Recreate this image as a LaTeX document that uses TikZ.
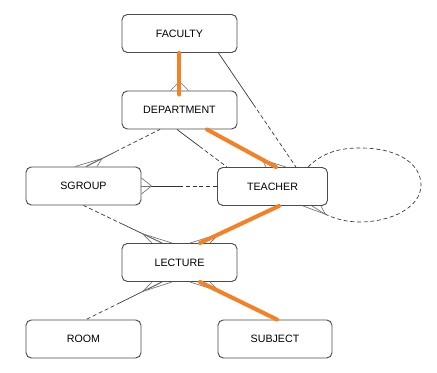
\documentclass[tikz,border=0pt]{standalone}
\usepackage{fontspec}
\setmainfont{Liberation Sans}
\usepackage{xcolor}
\usetikzlibrary{calc}

\definecolor{hlorange}{RGB}{245,128,37}
\tikzset{
  entity/.style={draw=black!70,line width=0.7pt,rounded corners=4pt,fill=white,
    minimum width=86.25pt,minimum height=28.5pt,inner sep=0pt,
    font=\fontsize{8}{10}\selectfont},
  rel/.style={draw=black!80,line width=0.5pt},
  opt/.style={rel,dash pattern=on 3pt off 2pt},
  foot/.style={draw=black!55,line width=0.5pt},
  hl/.style={draw=hlorange,line width=3pt,line cap=round},
}

\begin{document}
\begin{tikzpicture}[x=0.75pt,y=-0.75pt]
\useasboundingbox (0,0) rectangle (437,373);
% entities
\node[entity] (faculty) at (179.5,33.5) {FACULTY};
\node[entity] (dept) at (179.5,110) {DEPARTMENT};
\node[entity] (sgroup) at (83.5,186) {SGROUP};
\node[entity,minimum width=82.5pt] (teacher) at (272.5,186.5) {TEACHER};
\node[entity] (lecture) at (179.5,262.5) {LECTURE};
\node[entity] (room) at (83.5,339) {ROOM};
\node[entity,minimum width=85.5pt] (subject) at (275,339) {SUBJECT};

% end points of the relationships
\coordinate (ftA) at ($(faculty.south east)+(-19,0)$);
\coordinate (ftB) at ($(teacher.north)+(23.5,0)$);
\coordinate (dtA) at ($(dept.south)+(-2.5,0)$);
\coordinate (dtB) at ($(teacher.north west)+(10,0)$);
\coordinate (dsA) at ($(dept.south)+(-19.5,0)$);
\coordinate (dsB) at ($(sgroup.north)+(2.5,0)$);
\coordinate (stA) at (sgroup.east);
\coordinate (stB) at (teacher.west |- sgroup.east);
\coordinate (slA) at (sgroup.south);
\coordinate (slB) at ($(lecture.north)+(-17.5,0)$);
\coordinate (rlA) at ($(room.north)+(2.5,0)$);
\coordinate (rlB) at ($(lecture.south)+(-17.5,0)$);
\coordinate (ohA) at ($(dept.south)+(27.5,0)$);
\coordinate (ohB) at ($(teacher.north)+(3.5,0)$);
\coordinate (tlA) at ($(teacher.south)+(6.5,0)$);
\coordinate (tlB) at ($(lecture.north)+(20.5,0)$);
\coordinate (lsA) at ($(lecture.south)+(20.5,0)$);
\coordinate (lsB) at ($(subject.north)+(2,0)$);
\coordinate (loopS) at ($(teacher.north east)+(-20,0)$);
\coordinate (loopP) at ($(teacher.south east)+(-16,0)$);
\coordinate (loopE) at (325,214);

% solid half at the first end, dashed half at the other
\foreach \a/\b/\f in {ftA/ftB/0.45, dtA/dtB/0.45, dsB/dsA/0.4,
                      stA/stB/0.5, slB/slA/0.5, rlB/rlA/0.55} {
    \draw[rel] (\a) -- ($(\a)!\f!(\b)$);
    \draw[opt] ($(\a)!\f!(\b)$) -- (\b);
}
% recursive relationship
\draw[opt] (loopS) .. controls (325,150) and (345,148) .. (360,148)
    .. controls (400,148) and (421,165) .. (421,185)
    .. controls (421,208) and (390,222) .. (360,222)
    .. controls (345,222) and (333,218) .. (loopE);

% crow's feet
\foreach \p/\q/\l/\dx/\dy in {dept.north/faculty.south/6.75pt/9/0,
        dsB/dsA/13.5pt/11/0, ohB/ohA/11.7pt/10/0, stA/stB/7.5pt/0/8,
        loopP/loopE/11.8pt/9/0, slB/slA/16pt/10/0, tlB/tlA/16pt/10/0,
        rlB/rlA/16pt/10/0, lsA/lsB/16pt/10/0} {
    \draw[foot] ($(\p)+(\dx,\dy)$) -- ($(\p)!\l!(\q)$) -- ($(\p)-(\dx,\dy)$);
    \draw[foot] (\p) -- ($(\p)!\l!(\q)$);
}

% highlighted path
\draw[hl] (faculty.south) -- ($(dept.north)+(0,4)$);
\draw[hl] (ohA) -- (ohB);
\draw[hl] (tlA) -- (tlB);
\draw[hl] (lsA) -- (lsB);
\end{tikzpicture}
\end{document}
